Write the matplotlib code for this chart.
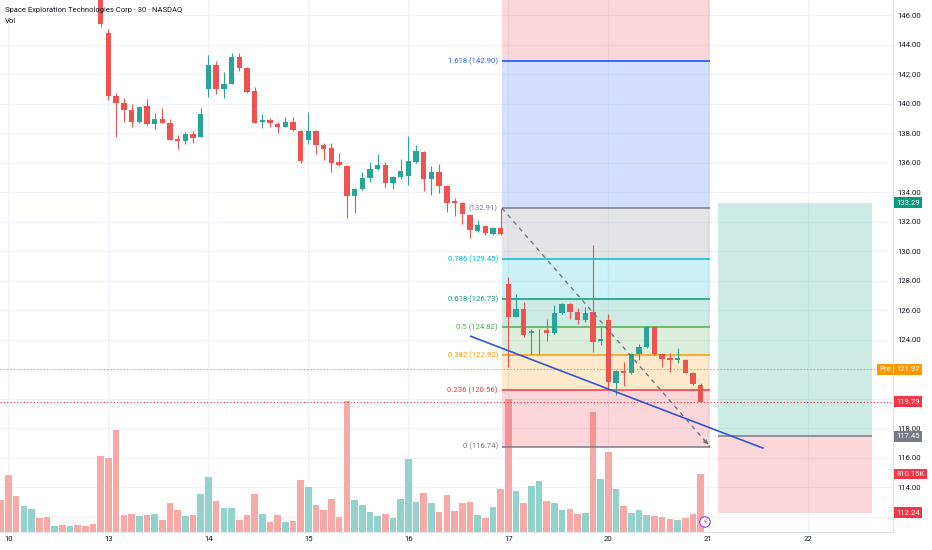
import matplotlib
matplotlib.use('Agg')
import matplotlib.pyplot as plt
import matplotlib.transforms as mtransforms

plt.rcParams['font.family'] = ['Roboto', 'DejaVu Sans']

# ---------------- data ----------------
title = "Space Exploration Technologies Corp · 30 · NASDAQ"
day_labels = ['10', '13', '14', '15', '16', '17', '20', '21', '22']
bars_per_day = 13

first_candle_bar = 12
opens = [148.50, 144.76, 140.51, 140.03, 139.58, 138.75, 139.81, 138.59, 138.95, 138.70,
         137.62, 137.48, 137.95, 137.73, 140.96, 142.61, 141.00, 141.32, 143.13, 142.41,
         140.87, 138.73, 138.88, 138.63, 138.41, 138.75, 138.16, 137.50, 138.11, 137.16,
         136.96, 136.01, 135.76, 133.73, 134.18, 134.97, 135.56, 135.81, 134.59, 135.00,
         135.06, 136.05, 136.73, 134.90, 135.38, 134.43, 133.41, 133.27, 132.46, 131.38,
         131.67, 131.17, 131.54, 127.76, 125.55, 126.05, 124.42, 124.55, 124.64, 124.46,
         125.82, 126.41, 125.89, 125.32, 125.84, 123.90, 125.32, 121.07, 121.89, 121.71,
         123.05, 123.51, 124.87, 123.00, 122.73, 122.61, 122.61, 121.75, 120.92]
highs = [149.00, 145.03, 140.73, 140.39, 139.97, 139.85, 140.31, 139.33, 139.67, 138.93,
         137.86, 138.09, 138.16, 139.72, 143.29, 142.88, 142.11, 143.44, 143.40, 142.45,
         141.10, 139.29, 139.05, 138.72, 139.06, 139.06, 138.20, 139.40, 138.20, 137.34,
         137.34, 136.62, 135.85, 134.25, 135.38, 136.03, 136.56, 136.03, 135.10, 136.22,
         137.80, 137.19, 136.80, 135.76, 135.88, 134.50, 133.57, 133.35, 132.50, 132.10,
         131.75, 131.60, 132.91, 128.21, 127.11, 126.52, 124.70, 124.69, 125.39, 126.34,
         126.45, 126.45, 126.11, 126.22, 130.41, 124.87, 125.71, 121.95, 122.49, 123.10,
         123.69, 124.95, 124.90, 123.10, 123.06, 123.40, 122.70, 121.80, 121.07]
lows = [145.17, 140.24, 137.75, 138.77, 138.43, 138.70, 138.55, 138.25, 138.66, 137.50,
        136.89, 137.25, 137.34, 137.70, 140.46, 140.62, 140.35, 141.30, 142.22, 140.70,
        138.65, 138.34, 138.39, 137.98, 138.38, 138.15, 135.97, 137.25, 136.56, 136.17,
        135.38, 135.78, 132.26, 132.56, 134.15, 134.70, 135.50, 134.36, 134.18, 134.86,
        134.47, 136.00, 134.07, 133.80, 133.91, 132.66, 132.39, 131.83, 130.86, 131.30,
        131.10, 131.10, 131.10, 122.16, 125.50, 124.19, 123.02, 123.02, 123.92, 124.40,
        125.75, 125.37, 125.03, 125.20, 123.17, 123.63, 120.69, 120.24, 120.87, 121.65,
        122.61, 123.40, 122.95, 122.16, 121.82, 122.40, 121.70, 120.90, 119.75]
closes = [145.39, 140.53, 140.05, 139.56, 138.75, 139.78, 138.59, 138.95, 138.68, 137.53,
          137.46, 137.91, 137.66, 139.27, 142.61, 140.98, 141.32, 143.13, 142.43, 140.80,
          138.70, 138.88, 138.66, 138.41, 138.72, 138.20, 136.10, 138.11, 137.16, 136.94,
          135.99, 135.81, 133.73, 134.18, 134.95, 135.56, 135.81, 134.59, 135.00, 135.42,
          136.10, 136.80, 134.88, 135.33, 134.43, 133.27, 133.27, 132.49, 131.42, 131.74,
          131.20, 131.54, 131.15, 125.55, 126.05, 124.31, 124.60, 124.56, 124.46, 125.78,
          126.41, 125.89, 125.32, 125.82, 123.86, 124.03, 121.10, 121.89, 121.71, 123.05,
          123.47, 124.87, 123.00, 122.66, 122.61, 122.73, 121.75, 120.97, 119.79]

first_volume_bar = -1
volumes_k = [447, 796, 503, 363, 321, 200, 210, 84, 94, 84, 98, 84, 112,
             1062, 1034, 1425, 233, 251, 224, 242, 251, 168, 401, 312, 224, 242,
             531, 764, 437, 335, 335, 168, 242, 531, 251, 136, 242, 140, 154,
             726, 633, 377, 307, 457, 210, 1834, 447, 373, 279, 228, 251, 200,
             457, 1024, 419, 541, 401, 279, 517, 289, 401, 419, 233, 200, 349,
             605, 1854, 577, 409, 643, 712, 437, 401, 307, 321, 251, 270, 1672, 740,
             1122, 601, 363, 265, 307, 233, 224, 205, 186, 168, 196, 251, 810.15]
# direction of the volume bars before the first visible candle (u = up, d = down)
early_volume_dir = ['d', 'd', 'd', 'u', 'u', 'd', 'd', 'u', 'd', 'u', 'd', 'd', 'd']

fib_ratios = [0, 0.236, 0.382, 0.5, 0.618, 0.786, 1, 1.618, 2.618]
fib_prices = [116.74, 120.56, 122.92, 124.82, 126.73, 129.45, 132.91, 142.90, 159.07]
fib_colors = ['#787b86', '#f23645', '#ff9800', '#4caf50', '#089981', '#00bcd4',
              '#787b86', '#2962ff', '#f23645']

pos_entry, pos_target, pos_stop = 117.45, 133.29, 112.24
pre_price = 121.97
last_price = 119.79
last_volume_label = '810.15K'

price_grid = [112, 114, 116, 118, 120, 122, 124, 126, 128, 130, 132, 134, 136, 138,
              140, 142, 144, 146]
# 112 and 120 labels sit behind the price tags, so they are not labelled
price_tick_labels = [114, 116, 118, 122, 124, 126, 128, 130, 132, 134, 136, 138,
                     140, 142, 144, 146]

# ---------------- styling ----------------
UP, DOWN = '#26a69a', '#ef5350'
VOL_UP, VOL_DOWN = '#92d2cc', '#f7a9a7'
GRID = '#f0f3fa'
TXT = '#131722'
FS = 5.6

fig = plt.figure(figsize=(9.32, 5.5), dpi=100)
fig.patch.set_facecolor('white')
rect = [0, 18 / 550, 893 / 932, 532 / 550]
ax_v = fig.add_axes(rect, zorder=0)
ax = fig.add_axes(rect, zorder=1, sharex=ax_v)
ax.patch.set_visible(False)

xlim = (-1.105, 115.02)
ax_v.set_xlim(*xlim)
ax.set_ylim(110.95, 147.02)
ax_v.set_ylim(0, 7432)
ax_v.axis('off')

# grid (under everything)
day_pos = [k * bars_per_day for k in range(len(day_labels))]
for d in day_pos:
    ax_v.axvline(d, color=GRID, lw=0.9, zorder=0)
tr_grid = mtransforms.blended_transform_factory(ax_v.transAxes, ax.transData)
for p in price_grid:
    ax_v.plot([0, 1], [p, p], transform=tr_grid, color=GRID, lw=0.9, zorder=0)

# volume
for k, v in enumerate(volumes_k):
    i = first_volume_bar + k
    ci = i - first_candle_bar
    if ci >= 0:
        up = closes[ci] >= opens[ci]
    else:
        up = early_volume_dir[k] == 'u'
    ax_v.bar(i, v, width=0.86, color=VOL_UP if up else VOL_DOWN, lw=0, zorder=1)

# fib retracement tool
fib_x0, fib_x1 = 64.17, 91.22
for j in range(1, len(fib_prices)):
    ax.fill_between([fib_x0, fib_x1], fib_prices[j - 1], fib_prices[j],
                    color=fib_colors[j], alpha=0.2, lw=0, zorder=1)
for r, p, c in zip(fib_ratios, fib_prices, fib_colors):
    lw = 1.3 if r in (1.618,) else 1.1
    ax.hlines(p, fib_x0, fib_x1, color=c, lw=lw, zorder=2)
    if p < 147:
        lab = f"({p:.2f})" if r == 1 else f"{r:g} ({p:.2f})"
        ax.annotate(lab, (fib_x0, p), xytext=(-4, 0), textcoords='offset pixels',
                    ha='right', va='center', fontsize=FS, color=c, zorder=6)

# long position tool
pos_x0, pos_x1 = 92.2, 112.3
ax.fill_between([pos_x0, pos_x1], pos_entry, pos_target, color='#089981', alpha=0.2, lw=0, zorder=1)
ax.fill_between([pos_x0, pos_x1], pos_stop, pos_entry, color='#f23645', alpha=0.2, lw=0, zorder=1)
ax.hlines(pos_entry, pos_x0, pos_x1, color='#787b86', lw=1.1, zorder=2)

# price lines
ax.axhline(pre_price, xmax=877 / 893, color='#ff9800', ls=(0, (1, 2)), lw=0.8, zorder=2)
ax.axhline(last_price, color='#f23645', ls=(0, (1, 2)), lw=0.8, zorder=2)

# candles
for k in range(len(opens)):
    i = first_candle_bar + k
    o, h, l, c = opens[k], highs[k], lows[k], closes[k]
    col = UP if c >= o else DOWN
    ax.vlines(i, l, h, color=col, lw=0.8, zorder=3)
    body = max(abs(c - o), 0.06)
    ax.bar(i, body, bottom=min(o, c), width=0.7, color=col, lw=0, zorder=3)

# trend line
ax.plot([60.0, 98.2], [124.24, 116.62], color='#3554d1', lw=1.2, zorder=4, solid_capstyle='butt')

# dashed diagonal of the fib tool
ax.plot([fib_x0, fib_x1], [fib_prices[6], fib_prices[0]], color='#6a6d78', lw=0.9,
        ls=(0, (3.5, 3.5)), zorder=4)
dx, dy = fib_x1 - fib_x0, fib_prices[0] - fib_prices[6]
ax.annotate('', xy=(fib_x1, fib_prices[0]), xytext=(fib_x1 - 0.04 * dx, fib_prices[0] - 0.04 * dy),
            arrowprops=dict(arrowstyle='->', color='#6a6d78', lw=0.9, mutation_scale=6), zorder=4)

# axes styling
for s in ['top', 'left']:
    ax.spines[s].set_visible(False)
for s in ['bottom', 'right']:
    ax.spines[s].set_color('#e0e3eb')
    ax.spines[s].set_linewidth(0.8)
ax.yaxis.tick_right()
ax.set_yticks(price_tick_labels)
ax.set_yticklabels([f"{p:.2f}" for p in price_tick_labels])
ax.tick_params(axis='y', length=0, pad=3.5, labelsize=FS, colors=TXT)
ax.set_xticks(day_pos)
ax.set_xticklabels(day_labels)
ax.tick_params(axis='x', length=0, pad=3, labelsize=FS, colors=TXT)
ax.set_xlim(*xlim)

# price tags on the right axis
tr_tag = mtransforms.blended_transform_factory(ax.transAxes, ax.transData)
def tag(y, text, color, transform=tr_tag, axis=ax):
    axis.text(1.0035, y, text, transform=transform, ha='left', va='center', fontsize=FS,
              color='white', bbox=dict(boxstyle='square,pad=0.32', fc=color, ec='none'),
              clip_on=False, zorder=10)

tag(pos_target, f"{pos_target:.2f}", '#089981')
tag(pre_price, f"{pre_price:.2f}", '#ff9800')
ax.text(0.9975, pre_price, 'Pre', transform=tr_tag, ha='right', va='center', fontsize=FS,
        color='white', bbox=dict(boxstyle='square,pad=0.32', fc='#ff9800', ec='none'),
        clip_on=False, zorder=10)
tag(last_price, f"{last_price:.2f}", '#f23645')
tag(pos_entry, f"{pos_entry:.2f}", '#787b86')
tag(pos_stop, f"{pos_stop:.2f}", '#f23645')
tr_vtag = mtransforms.blended_transform_factory(ax_v.transAxes, ax_v.transData)
tag(volumes_k[-1], last_volume_label, '#f23645', transform=tr_vtag, axis=ax_v)

# lightning badge
ax.text(705 / 893, 10 / 532, '⚡', transform=ax.transAxes, ha='center', va='center',
        fontsize=5, color='#8c3ee8',
        bbox=dict(boxstyle='circle,pad=0.25', fc='white', ec='#8c3ee8', lw=0.8), zorder=8)

# header texts
fig.text(5 / 932, 1 - 10 / 550, title, fontsize=5.5, color=TXT, va='center', ha='left', zorder=20)
fig.text(5 / 932, 1 - 21 / 550, 'Vol', fontsize=5.5, color=TXT, va='center', ha='left', zorder=20)

fig.savefig('out.png', dpi=100, facecolor='white')
